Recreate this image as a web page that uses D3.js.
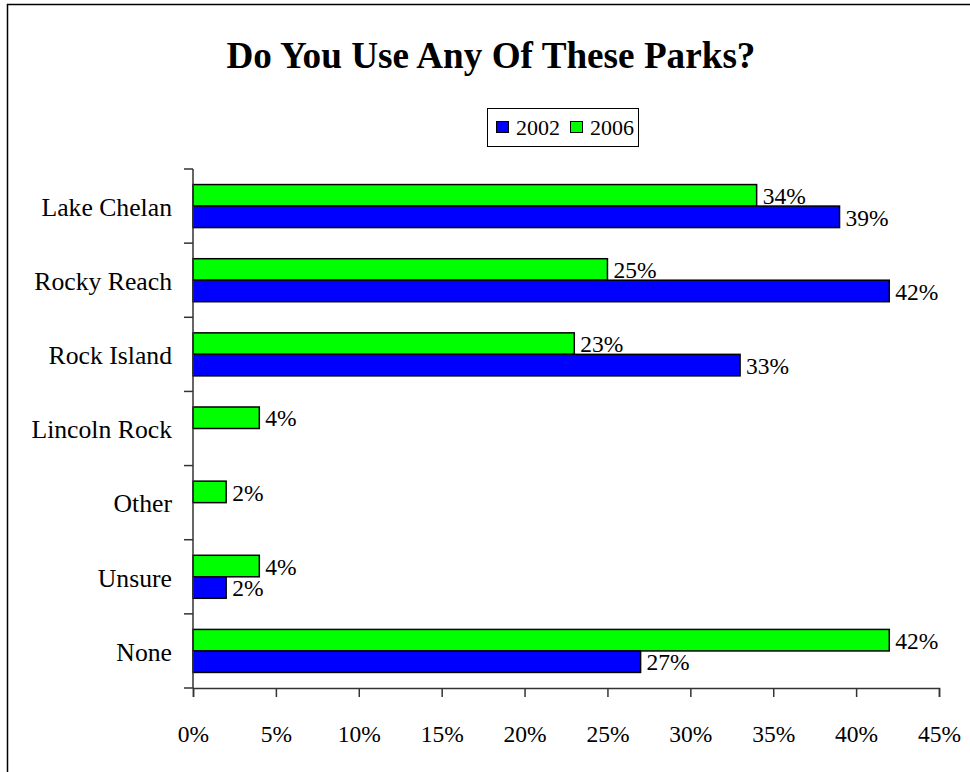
<!DOCTYPE html>
<html>
<head>
<meta charset="utf-8">
<script src="https://cdn.jsdelivr.net/npm/d3@7"></script>
<style>
  html, body { margin: 0; padding: 0; background: #fff; }
  svg text { font-family: "Liberation Serif", "Times New Roman", serif !important; }
</style>
</head>
<body>
<svg id="chart" width="970" height="772"></svg>
<script>
// Survey data: share of respondents using each park
const categories = ["Lake Chelan", "Rocky Reach", "Rock Island", "Lincoln Rock", "Other", "Unsure", "None"];
const values2002 = [39, 42, 33, null, null, 2, 27];
const values2006 = [34, 25, 23, 4, 2, 4, 42];
const seriesNames = ["2002", "2006"];
const xTicks = [0, 5, 10, 15, 20, 25, 30, 35, 40, 45];

const seriesColors = { "2002": "#0000FF", "2006": "#00FF00" };
const series = [
  { name: "2006", values: values2006 },
  { name: "2002", values: values2002 }
];

const svg = d3.select("#chart");

// Outer frame
svg.append("rect")
  .attr("x", 7.5).attr("y", 4.5)
  .attr("width", 1000).attr("height", 1000)
  .attr("fill", "none").attr("stroke", "#000").attr("stroke-width", 1.5);

const plot = { left: 193, right: 939, top: 169, bottom: 688 };

const x = d3.scaleLinear().domain([0, 45]).range([plot.left, plot.right]);
const y = d3.scaleBand().domain(categories).range([plot.top, plot.bottom]).padding(0);
const ySub = d3.scaleBand().domain(series.map(s => s.name))
  .range([0, y.bandwidth()]).paddingInner(0).paddingOuter(0.724);

// Title
svg.append("text")
  .attr("x", 491).attr("y", 68)
  .attr("text-anchor", "middle")
  .attr("font-weight", "bold")
  .attr("font-size", "37.2px")
  .text("Do You Use Any Of These Parks?");

// Legend
const legend = svg.append("g");
legend.append("rect")
  .attr("x", 487.5).attr("y", 108.5).attr("width", 151).attr("height", 38)
  .attr("fill", "#fff").attr("stroke", "#000").attr("stroke-width", 1);
const legendX = [496, 570];
seriesNames.forEach((name, i) => {
  legend.append("rect")
    .attr("x", legendX[i] + 0.5).attr("y", 121.5).attr("width", 12).attr("height", 11)
    .attr("fill", seriesColors[name]).attr("stroke", "#000").attr("stroke-width", 1);
  legend.append("text")
    .attr("x", legendX[i] + 20).attr("y", 135)
    .attr("font-size", "22px")
    .text(name);
});

// Bars
const groups = svg.append("g").selectAll("g")
  .data(series).join("g")
  .attr("fill", d => seriesColors[d.name]);

groups.selectAll("rect")
  .data(d => d.values.map((v, i) => ({ name: d.name, cat: categories[i], v })).filter(e => e.v !== null))
  .join("rect")
  .attr("x", x(0))
  .attr("y", d => y(d.cat) + ySub(d.name))
  .attr("width", d => x(d.v) - x(0))
  .attr("height", ySub.bandwidth())
  .attr("stroke", "#000").attr("stroke-width", 1.5);

// Value labels
svg.append("g").selectAll("g")
  .data(series).join("g")
  .selectAll("text")
  .data(d => d.values.map((v, i) => ({ name: d.name, cat: categories[i], v })).filter(e => e.v !== null))
  .join("text")
  .attr("x", d => x(d.v) + 6)
  .attr("y", d => y(d.cat) + ySub(d.name) + ySub.bandwidth() / 2)
  .attr("dy", "0.37em")
  .attr("font-size", "23.5px")
  .text(d => d.v + "%");

// X axis
const xAxis = svg.append("g")
  .attr("transform", `translate(0,${plot.bottom})`)
  .call(d3.axisBottom(x).tickValues(xTicks).tickSize(9).tickFormat(d => d + "%"));
xAxis.attr("font-family", null);
xAxis.select(".domain").attr("stroke", "#333").attr("stroke-width", 1.5);
xAxis.selectAll(".tick line").attr("stroke", "#333").attr("stroke-width", 1.5);
xAxis.selectAll(".tick text")
  .attr("font-size", "23.5px").attr("fill", "#000")
  .attr("y", 54).attr("dy", 0);

// Y axis: ticks at category boundaries
const boundaries = categories.map(c => y(c)).concat([plot.bottom]);
const yAxis = svg.append("g");
yAxis.append("line")
  .attr("x1", plot.left).attr("x2", plot.left)
  .attr("y1", plot.top).attr("y2", plot.bottom)
  .attr("stroke", "#333").attr("stroke-width", 1.5);
yAxis.selectAll(".bt").data(boundaries).join("line")
  .attr("class", "bt")
  .attr("x1", plot.left - 9).attr("x2", plot.left)
  .attr("y1", d => d).attr("y2", d => d)
  .attr("stroke", "#333").attr("stroke-width", 1.5);
yAxis.selectAll("text").data(categories).join("text")
  .attr("x", 172)
  .attr("y", d => y(d) + y.bandwidth() / 2)
  .attr("dy", "0.38em")
  .attr("text-anchor", "end")
  .attr("font-size", "25.7px")
  .text(d => d);
</script>
</body>
</html>
